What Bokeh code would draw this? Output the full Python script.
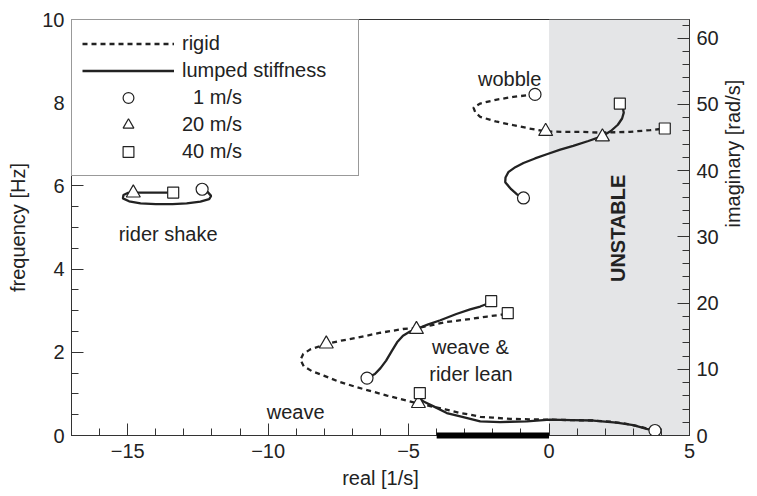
import numpy as np
from bokeh.plotting import figure
from bokeh.models import (Range1d, LinearAxis, BoxAnnotation, Legend, LegendItem,
                          Label, FixedTicker)
from bokeh.embed import file_html
from bokeh.resources import INLINE
from bokeh.core.properties import value

# ---- eigenvalue loci: real part [1/s] and frequency [Hz] ----
# rigid rider model (dashed)
wobble_rigid_re = [-0.50, -1.27, -1.90, -2.45, -2.69, -2.62, -2.45, -1.90, -1.27, -0.70,
                   -0.12, 0.50, 1.10, 1.87, 2.88, 3.60, 4.12]
wobble_rigid_hz = [8.20, 8.14, 8.07, 7.98, 7.88, 7.76, 7.66, 7.55, 7.46, 7.38,
                   7.31, 7.30, 7.30, 7.28, 7.30, 7.34, 7.38]

weave_rigid_re = [3.77, 3.30, 2.76, 2.20, 1.58, 0.80, 0.03, -0.70, -1.39, -2.00, -2.45,
                  -2.80, -3.16, -3.70, -4.67, -5.77, -6.84, -7.50, -8.02, -8.45, -8.73,
                  -8.85, -8.75, -8.50, -7.93, -7.40, -6.84, -6.00, -5.20, -4.73, -4.20,
                  -3.64, -2.81, -2.20, -1.74, -1.47]
weave_rigid_hz = [0.12, 0.20, 0.28, 0.33, 0.36, 0.37, 0.38, 0.39, 0.40, 0.43, 0.45,
                  0.50, 0.54, 0.63, 0.77, 0.96, 1.16, 1.30, 1.44, 1.55, 1.66,
                  1.82, 1.96, 2.07, 2.20, 2.28, 2.35, 2.47, 2.56, 2.58, 2.65,
                  2.73, 2.80, 2.86, 2.90, 2.94]

# lumped stiffness model (solid)
wobble_lumped_re = [-0.91, -1.15, -1.35, -1.56, -1.55, -1.45, -1.20, -0.91, -0.50, -0.08,
                    0.40, 0.86, 1.40, 1.87, 2.20, 2.45, 2.60, 2.66, 2.62, 2.55]
wobble_lumped_hz = [5.71, 5.80, 5.92, 6.09, 6.20, 6.33, 6.45, 6.55, 6.66, 6.76,
                    6.87, 6.96, 7.08, 7.19, 7.32, 7.47, 7.62, 7.76, 7.90, 7.97]

shake_lumped_re = [-12.35, -12.15, -12.03, -12.10, -12.41, -12.90, -13.40, -14.00, -14.54,
                   -14.95, -15.17, -15.15, -15.00, -14.80, -14.20, -13.60, -13.38]
shake_lumped_hz = [5.92, 5.85, 5.76, 5.68, 5.62, 5.58, 5.56, 5.56, 5.58,
                   5.63, 5.70, 5.78, 5.83, 5.84, 5.84, 5.84, 5.84]

lean_lumped_re = [-6.48, -6.20, -6.00, -5.80, -5.60, -5.41, -5.20, -4.95, -4.72, -4.30,
                  -3.87, -3.30, -2.81, -2.45, -2.15]
lean_lumped_hz = [1.38, 1.48, 1.62, 1.80, 2.03, 2.24, 2.40, 2.50, 2.56, 2.67,
                  2.77, 2.92, 3.03, 3.10, 3.18]

weave_lumped_re = [3.77, 3.47, 3.00, 2.40, 1.58, 0.80, 0.03, -0.79, -1.39, -1.74, -2.45,
                   -3.16, -3.64, -4.11, -4.45, -4.62, -4.62]
weave_lumped_hz = [0.12, 0.16, 0.25, 0.31, 0.36, 0.37, 0.38, 0.34, 0.33, 0.32, 0.34,
                   0.46, 0.54, 0.70, 0.81, 0.90, 0.98]

# speed markers
v1_re = [-0.50, -0.91, -12.35, -6.48, 3.77]
v1_hz = [8.20, 5.71, 5.92, 1.38, 0.12]
v20_re = [-0.12, 1.90, -14.80, -7.93, -4.72, -4.65]
v20_hz = [7.31, 7.18, 5.83, 2.20, 2.55, 0.77]
v40_re = [4.12, 2.52, -13.38, -1.47, -2.06, -4.60]
v40_hz = [7.38, 7.98, 5.84, 2.94, 3.23, 1.02]

# capsize range on the real axis
capsize_re = [-4.0, 0.0]

# mode names and where they are written
mode_names = ["wobble", "rider shake", "weave", "weave &", "rider lean"]
mode_x = [-1.40, -13.56, -9.02, -2.80, -2.78]
mode_y = [8.58, 4.85, 0.56, 2.12, 1.48]

x_ticks = [-15, -10, -5, 0, 5]
hz_ticks = [0, 2, 4, 6, 8, 10]
rad_ticks = [0, 10, 20, 30, 40, 50, 60]

FONT = "Liberation Sans"
FS = "20px"
INK = "#222222"

p = figure(width=757, height=496, output_backend="svg", toolbar_location=None,
           x_range=Range1d(-17, 5), y_range=Range1d(0, 10),
           min_border_left=71, min_border_right=68, min_border_top=19, min_border_bottom=61)
p.xgrid.visible = False
p.ygrid.visible = False
p.outline_line_color = "#333333"
p.outline_line_width = 1
p.background_fill_color = "white"
p.border_fill_color = "white"

p.extra_y_ranges = {"rad": Range1d(0, 20 * np.pi)}
rax = LinearAxis(y_range_name="rad")
p.add_layout(rax, "right")
xax = p.xaxis[0]
lax = p.yaxis[0]

# unstable half-plane
p.add_layout(BoxAnnotation(left=0, fill_color="#e4e5e7", fill_alpha=1.0,
                           line_color=None, level="underlay"))

rigid = p.multi_line(xs=[wobble_rigid_re, weave_rigid_re], ys=[wobble_rigid_hz, weave_rigid_hz],
                     line_color=INK, line_width=2.3, line_dash="5 4")
lumped = p.multi_line(xs=[wobble_lumped_re, shake_lumped_re, lean_lumped_re, weave_lumped_re],
                      ys=[wobble_lumped_hz, shake_lumped_hz, lean_lumped_hz, weave_lumped_hz],
                      line_color=INK, line_width=2.3)

p.segment(x0=[capsize_re[0]], y0=[0], x1=[capsize_re[1]], y1=[0],
          line_color="black", line_width=6, level="overlay")

m1 = p.scatter(v1_re, v1_hz, marker="circle", size=12, fill_color="white",
               line_color=INK, line_width=1.2)
m20 = p.scatter(v20_re, v20_hz, marker="triangle", size=14, fill_color="white",
                line_color=INK, line_width=1.2)
m40 = p.scatter(v40_re, v40_hz, marker="square", size=11, fill_color="white",
                line_color=INK, line_width=1.2)

p.text(x=mode_x, y=mode_y, text=mode_names, text_font=value(FONT), text_font_size=FS,
       text_align="center", text_baseline="alphabetic", text_color=INK)

p.add_layout(Label(x=-2.05, y=-0.56, text="capsize", text_font=FONT, text_font_size=FS,
                   text_align="center", text_baseline="alphabetic", text_color=INK))
p.add_layout(Label(x=2.46, y=4.98, text="UNSTABLE", angle=np.pi / 2, text_font=FONT,
                   text_font_size=FS, text_font_style="bold", text_align="center",
                   text_baseline="middle", text_color=INK))

# axes
xax.ticker = FixedTicker(ticks=x_ticks, minor_ticks=list(range(-17, 6)))
xax.major_label_overrides = {t: str(t).replace("-", "\u2212") for t in x_ticks}
xax.axis_label = "real [1/s]"
lax.ticker = FixedTicker(ticks=hz_ticks, minor_ticks=[i * 0.5 for i in range(21)])
lax.axis_label = "frequency [Hz]"
rax.ticker = FixedTicker(ticks=rad_ticks, minor_ticks=list(range(0, 63, 2)))
rax.axis_label = "imaginary [rad/s]"
# right-hand title reads upwards like the left one
if "axis_label_orientation" in rax.properties():
    rax.axis_label_orientation = np.pi / 2

for ax in (xax, lax, rax):
    ax.axis_line_color = "#333333"
    ax.major_tick_line_color = "#333333"
    ax.minor_tick_line_color = "#333333"
    ax.major_tick_in = 12
    ax.major_tick_out = 0
    ax.minor_tick_in = 7
    ax.minor_tick_out = 0
    ax.major_label_text_font = FONT
    ax.major_label_text_font_size = FS
    ax.major_label_text_color = INK
    ax.axis_label_text_font = FONT
    ax.axis_label_text_font_size = FS
    ax.axis_label_text_font_style = "normal"
    ax.axis_label_text_color = INK
    ax.major_label_standoff = 7
    ax.axis_label_standoff = 10
xax.major_label_standoff = 8
xax.axis_label_standoff = 6
rax.axis_label_standoff = 11

legend = Legend(items=[LegendItem(label="rigid", renderers=[rigid]),
                       LegendItem(label="lumped stiffness", renderers=[lumped]),
                       LegendItem(label="\u20071 m/s", renderers=[m1]),
                       LegendItem(label="20 m/s", renderers=[m20]),
                       LegendItem(label="40 m/s", renderers=[m40])],
                location="top_left", margin=0, padding=10, spacing=0,
                glyph_width=92, glyph_height=27, label_height=20, label_width=166,
                label_standoff=8, label_text_font=FONT, label_text_font_size=FS,
                label_text_color=INK, border_line_color="#333333", border_line_width=1,
                background_fill_alpha=1.0)
p.add_layout(legend)

open("out.html", "w").write(file_html(p, INLINE))
